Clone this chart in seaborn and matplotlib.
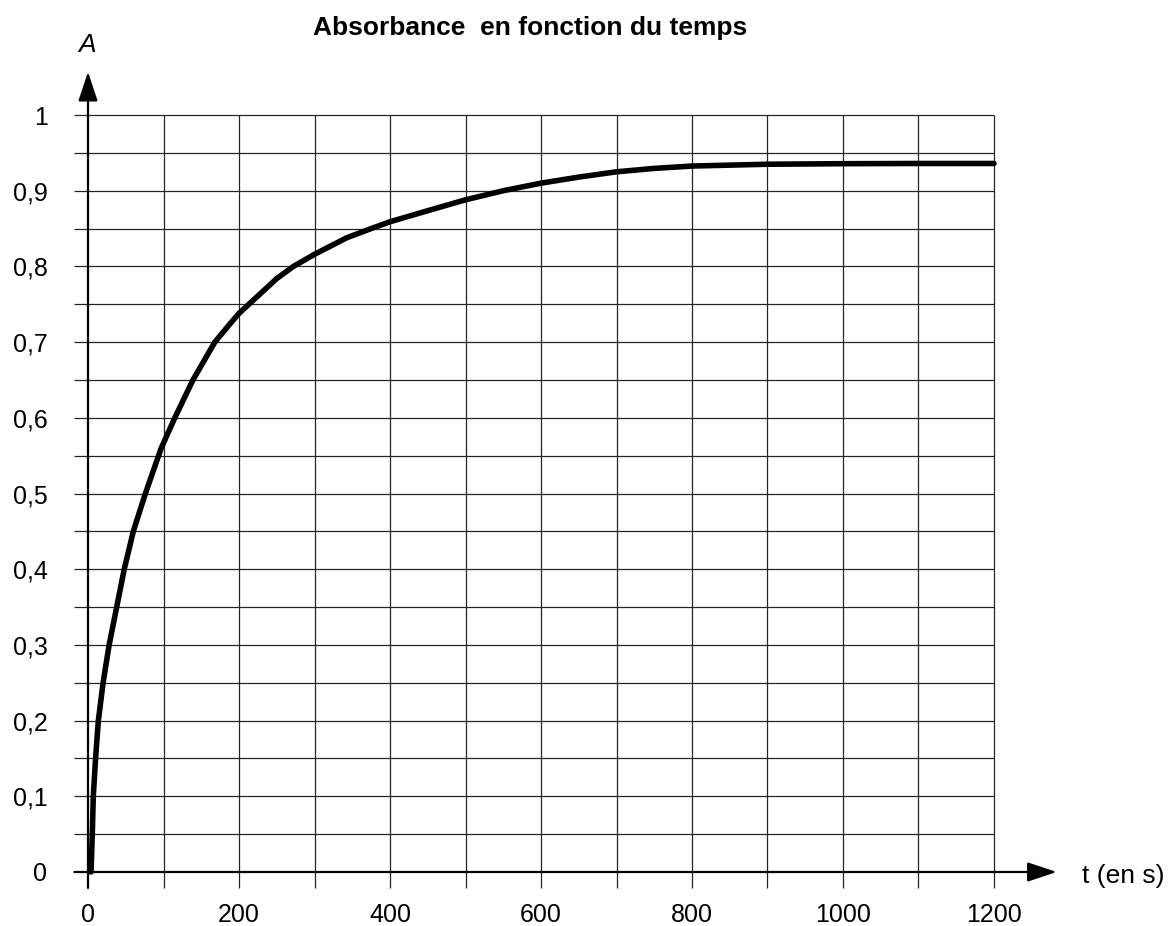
import numpy as np
import pandas as pd
import matplotlib
matplotlib.use("Agg")
import matplotlib.pyplot as plt
import seaborn as sns

# values
t_s = [4, 5.7, 7, 10, 13.7, 20, 28, 38, 48, 60, 76, 97, 115, 139, 168, 188,
       200, 250, 272, 300, 343, 375, 400, 453, 500, 550, 600, 650, 700, 750,
       800, 900, 1000, 1100, 1200]
absorbance = [0.0, 0.05, 0.1, 0.15, 0.2, 0.25, 0.3, 0.35, 0.4, 0.45, 0.5, 0.56,
              0.6, 0.65, 0.7, 0.724, 0.738, 0.784, 0.8, 0.816, 0.838, 0.85, 0.859,
              0.8745, 0.888, 0.9, 0.91, 0.918, 0.925, 0.9295, 0.9326, 0.935,
              0.9357, 0.936, 0.936]

x_ticks = [0, 200, 400, 600, 800, 1000, 1200]
y_ticks = [0, 0.1, 0.2, 0.3, 0.4, 0.5, 0.6, 0.7, 0.8, 0.9, 1.0]
y_labels = ["0", "0,1", "0,2", "0,3", "0,4", "0,5", "0,6", "0,7", "0,8", "0,9", "1"]

sns.set_style("white")
plt.rcParams["font.family"] = ["Liberation Sans", "DejaVu Sans"]
plt.rcParams["text.color"] = "black"
plt.rcParams["xtick.color"] = "black"
plt.rcParams["ytick.color"] = "black"

df = pd.DataFrame({"t": t_s, "A": absorbance})

fig = plt.figure(figsize=(11.73, 9.26), dpi=100)
ax = fig.add_axes([60 / 1173, 26 / 926, 1040 / 1173, 840 / 926])
ax.set_xlim(-37.09, 1340.4)
ax.set_ylim(-0.037, 1.0727)

# grid (drawn by hand, it overhangs the axes)
ax.hlines(np.arange(0.05, 1.0001, 0.05), -18, 1200, color="0.15", lw=0.9, zorder=1)
ax.vlines(np.arange(100, 1201, 100), -0.021, 1.0, color="0.15", lw=0.9, zorder=1)

# axes with arrows
arrow = dict(arrowstyle="-|>,head_length=1.8,head_width=0.6", mutation_scale=10,
             lw=1.6, color="black", shrinkA=0, shrinkB=0)
ax.annotate("", xy=(1283, 0), xytext=(-18, 0), arrowprops=arrow)
ax.annotate("", xy=(0, 1.057), xytext=(0, -0.021), arrowprops=arrow)

sns.lineplot(data=df, x="t", y="A", color="black", lw=4, ax=ax, zorder=3)

for s in ax.spines.values():
    s.set_visible(False)
ax.set_xticks(x_ticks)
ax.set_yticks(y_ticks)
ax.set_yticklabels(y_labels)
ax.tick_params(axis="both", length=0, labelsize=18)
ax.tick_params(axis="y", pad=9)
ax.tick_params(axis="x", pad=2)
ax.set_xlabel("")
ax.set_ylabel("")
ax.grid(False)

fig.text(530 / 1173, 1 - 28 / 926, "Absorbance  en fonction du temps",
         ha="center", va="center", fontsize=19, fontweight="bold")
fig.text(87 / 1173, 1 - 45 / 926, "A", ha="center", va="center",
         fontsize=19, style="italic")
fig.text(1082 / 1173, 1 - 876 / 926, "t (en s)", ha="left", va="center", fontsize=19)

fig.savefig("out.png", dpi=100)
